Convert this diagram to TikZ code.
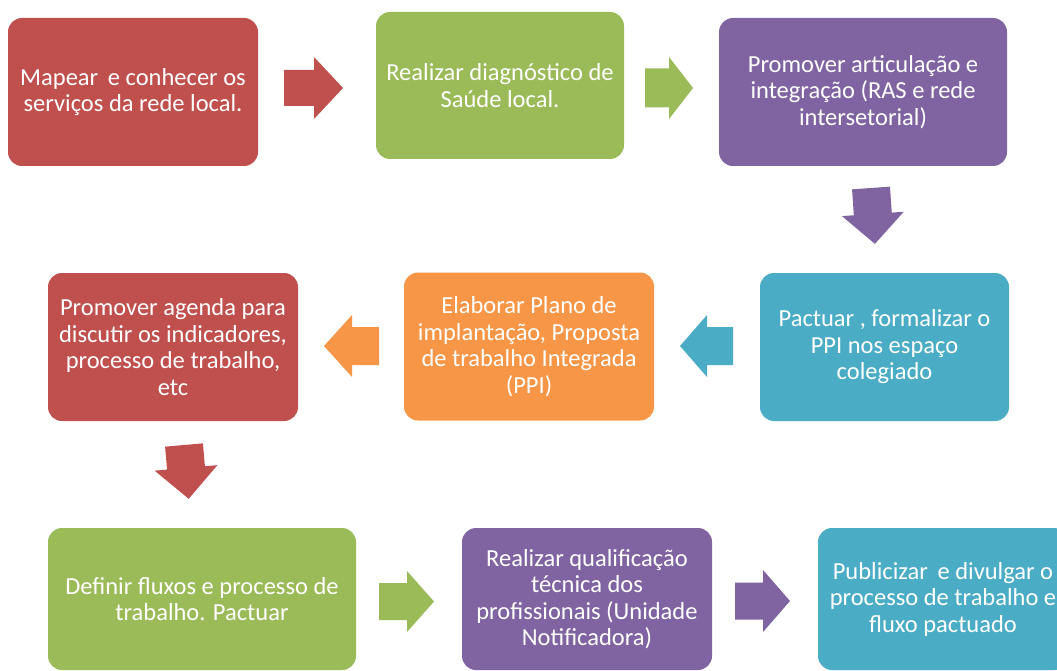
\documentclass[tikz,border=0pt]{standalone}
\usepackage{fontspec}
\setmainfont{Carlito}
\usetikzlibrary{calc}

\definecolor{cred}{HTML}{C0504D}
\definecolor{cgreen}{HTML}{9BBB59}
\definecolor{cpurple}{HTML}{8064A2}
\definecolor{cteal}{HTML}{4BACC6}
\definecolor{corange}{HTML}{F79646}

\tikzset{
  stepbox/.style={
    rounded corners=14pt, inner sep=4pt, align=center,
    text=white, font=\fontsize{24.5}{26.5}\selectfont,
    minimum height=148pt, minimum width=250pt
  },
  % block arrow: length, neck position, half shaft width, half head width
  pics/blockarrow/.style n args={4}{code={
    \fill (0,-#3) -- (#2,-#3) -- (#2,-#4) -- (#1,0) -- (#2,#4) -- (#2,#3) -- (0,#3) -- cycle;
  }}
}

\begin{document}
\begin{tikzpicture}[x=1pt,y=-1pt]
  \useasboundingbox (0,0) rectangle (1057,671);
  \begin{scope}
    \clip (0,0) rectangle (1057,671);

    % first row
    \node[stepbox, fill=cred] (b1) at (133,92)
      {Mapear\, e conhecer os\\serviços da rede local.};
    \node[stepbox, fill=cgreen, minimum width=248pt, minimum height=147pt] (b2) at (500,85.5)
      {Realizar diagnóstico de\\Saúde local.};
    \node[stepbox, fill=cpurple, minimum width=288pt] (b3) at (863,92)
      {Promover articulação e\\integração (RAS e rede\\intersetorial)};

    % second row
    \node[stepbox, fill=cteal, minimum width=249pt] (b4) at (884.5,347)
      {Pactuar , formalizar o\\PPI nos espaço\\colegiado};
    \node[stepbox, fill=corange] (b5) at (529,346.5)
      {Elaborar Plano de\\implantação, Proposta\\de trabalho Integrada\\(PPI)};
    \node[stepbox, fill=cred] (b6) at (173,347)
      {Promover agenda para\\discutir os indicadores,\\processo de trabalho,\\etc};

    % third row
    \node[stepbox, fill=cgreen, minimum width=308pt, minimum height=142pt] (b7) at (202,599)
      {Definir fluxos e processo de\\trabalho. Pactuar};
    \node[stepbox, fill=cpurple, minimum height=142pt] (b8) at (587,599)
      {Realizar qualificação\\técnica dos\\profissionais (Unidade\\Notificadora)};
    \node[stepbox, fill=cteal, minimum height=142pt] (b9) at (943,599)
      {Publicizar\, e divulgar o\\processo de trabalho e\\fluxo pactuado};

    % block arrows between the steps
    \pic[fill=cred]                 at (284,88)    {blockarrow={59}{30}{18}{31}};
    \pic[fill=cgreen]               at (645,88)    {blockarrow={48}{24}{19.5}{31}};
    \pic[fill=cpurple, rotate=-86]  at (871,188)   {blockarrow={56}{26}{19}{31}};
    \pic[fill=cteal, rotate=180]    at (733,346)   {blockarrow={53}{26}{19}{31}};
    \pic[fill=corange, rotate=180]  at (379,346)   {blockarrow={55}{27}{19}{31}};
    \pic[fill=cred, rotate=-85]     at (184,445)   {blockarrow={54}{23}{19}{31.5}};
    \pic[fill=cgreen]               at (379,601.5) {blockarrow={55}{28}{18.5}{30.5}};
    \pic[fill=cpurple]              at (735,601)   {blockarrow={55}{28}{18.5}{31}};
  \end{scope}
\end{tikzpicture}
\end{document}
